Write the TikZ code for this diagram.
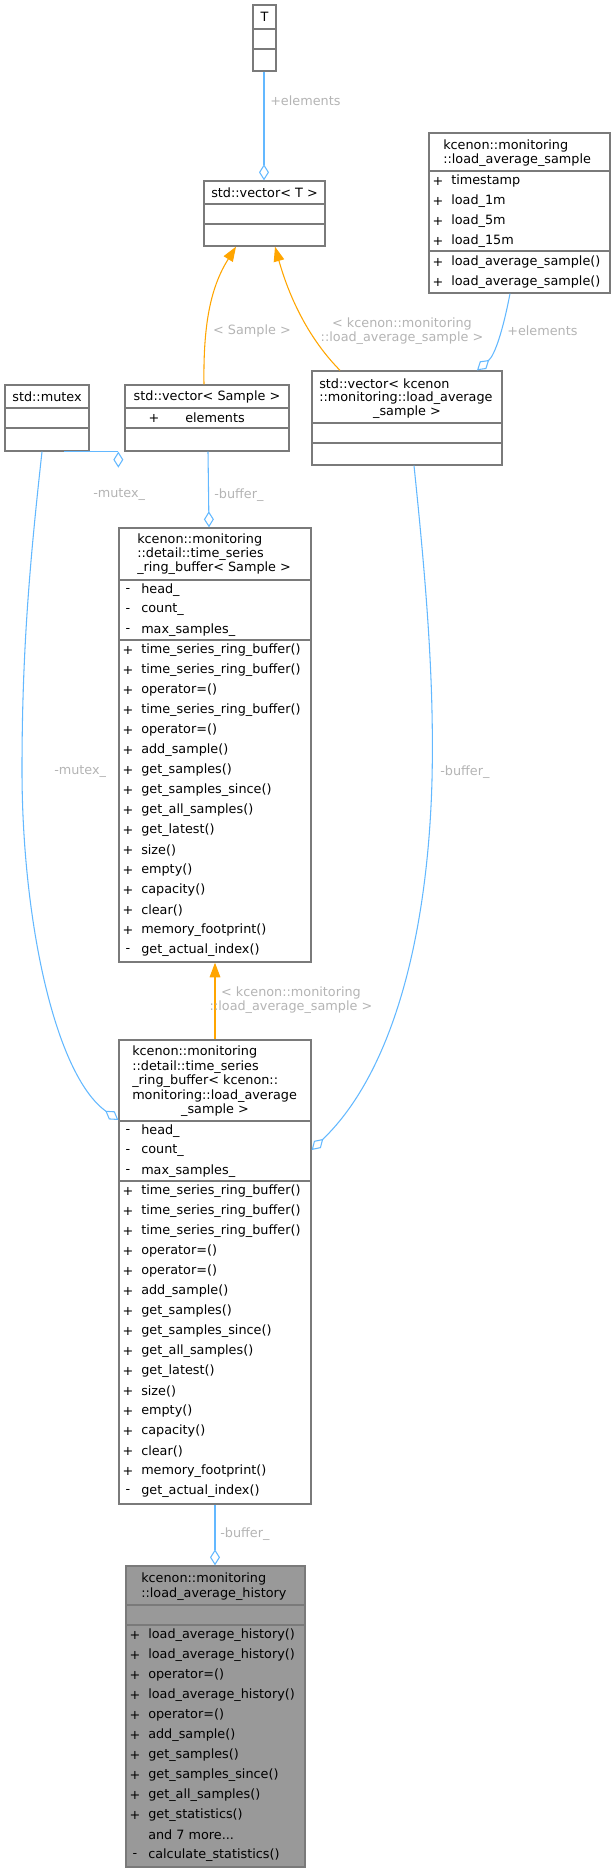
\documentclass[tikz,border=0pt]{standalone}
\usepackage{fontspec}
\setmainfont{DejaVu Sans}
\usetikzlibrary{arrows.meta,fit}
\definecolor{eblue}{HTML}{63B8FF}
\definecolor{eorange}{HTML}{FFA500}
\definecolor{lbl}{HTML}{B4B4B4}
\definecolor{bord}{HTML}{7A7A7A}
\definecolor{hist}{HTML}{999999}
\newcommand\mem[4]{\node[txt] at ({#1+9},#2) {#3}; \node[txt,anchor=west] at ({#1+22},#2) {#4};}
\newcommand\tl[3]{\node[txt,anchor=west] at (#1,#2) {#3};}
\newcommand\hsep[3]{\draw[bord,line width=1pt] (#1,#3) -- (#2,#3);}
\begin{document}
\begin{tikzpicture}[x=0.75pt,y=-0.75pt,
  txt/.style={inner sep=0pt,font=\fontsize{9.6}{11}\selectfont,text=black},
  lab/.style={inner sep=0pt,font=\fontsize{9.6}{10.9}\selectfont,text=lbl,align=center},
  box/.style={draw=bord,line width=1pt,fill=white,inner sep=0pt},
  agg/.style={draw=eblue,line width=0.8pt,-{Diamond[open,length=12pt,width=7.5pt]}},
  inh/.style={draw=eorange,line width=0.8pt,-{Triangle[length=11pt,width=8pt]}}]
\useasboundingbox (0,0) rectangle (615,1872);
% boxes
\node[box,fit={(253,5)(276,71)}] (T) {};
\node[box,fit={(204,181)(325,246)}] (vT) {};
\node[box,fit={(429,133)(610,293)}] (las) {};
\node[box,fit={(5,385)(89,451)}] (mtx) {};
\node[box,fit={(125,385)(289,451)}] (vS) {};
\node[box,fit={(312,371)(502,465)}] (vL) {};
\node[box,fit={(119,528)(311,962)}] (r1) {};
\node[box,fit={(119,1040)(311,1504)}] (r2) {};
\node[box,fill=hist,fit={(126,1566)(305,1867)}] (hst) {};
% T
\node[txt] (Tt) at (264.5,17) {T};
\hsep{253}{276}{29}\hsep{253}{276}{49}
% vector<T>
\node[txt] (vTt) at (264.5,193) {std::vector< T >};
\hsep{204}{325}{204}\hsep{204}{325}{224}
% load_average_sample
\tl{443}{146}{kcenon::monitoring}
\tl{443}{160}{::load\_average\_sample}
\hsep{429}{610}{171}
\mem{429}{181}{+}{timestamp}
\mem{429}{201}{+}{load\_1m}
\mem{429}{221}{+}{load\_5m}
\mem{429}{241}{+}{load\_15m}
\hsep{429}{610}{251}
\mem{429}{262}{+}{load\_average\_sample()}
\mem{429}{282}{+}{load\_average\_sample()}
% mutex
\node[txt] (mt) at (47,397) {std::mutex};
\hsep{5}{89}{408}\hsep{5}{89}{428}
% vector<Sample>
\node[txt] (vSt) at (207,397) {std::vector< Sample >};
\hsep{125}{289}{408}
\node[txt] at (154,418) {+}; \node[txt] at (215,418) {elements};
\hsep{125}{289}{428}
% vector<load_average_sample>
\tl{319}{384}{std::vector< kcenon}
\tl{319}{398}{::monitoring::load\_average}
\node[txt] at (407,412) {\_sample >};
\hsep{312}{502}{423}\hsep{312}{502}{443}
% ring buffer <Sample>
\tl{137}{540}{kcenon::monitoring}
\tl{137}{554}{::detail::time\_series}
\tl{137}{568}{\_ring\_buffer< Sample >}
\hsep{119}{311}{580}
\mem{119}{590}{-}{head\_}
\mem{119}{610}{-}{count\_}
\mem{119}{630}{-}{max\_samples\_}
\hsep{119}{311}{640}
\foreach \t [count=\i from 0] in {time\_series\_ring\_buffer(),time\_series\_ring\_buffer(),operator=(),time\_series\_ring\_buffer(),operator=(),add\_sample(),get\_samples(),get\_samples\_since(),get\_all\_samples(),get\_latest(),size(),empty(),capacity(),clear(),memory\_footprint()}
  {\mem{119}{650+20*\i}{+}{\t}}
\mem{119}{950}{-}{get\_actual\_index()}
% ring buffer <load_average_sample>
\tl{132}{1052}{kcenon::monitoring}
\tl{132}{1067}{::detail::time\_series}
\tl{132}{1081}{\_ring\_buffer< kcenon::}
\tl{132}{1096}{monitoring::load\_average}
\node[txt] at (215,1110) {\_sample >};
\hsep{119}{311}{1121}
\mem{119}{1131}{-}{head\_}
\mem{119}{1151}{-}{count\_}
\mem{119}{1171}{-}{max\_samples\_}
\hsep{119}{311}{1181}
\foreach \t [count=\i from 0] in {time\_series\_ring\_buffer(),time\_series\_ring\_buffer(),time\_series\_ring\_buffer(),operator=(),operator=(),add\_sample(),get\_samples(),get\_samples\_since(),get\_all\_samples(),get\_latest(),size(),empty(),capacity(),clear(),memory\_footprint()}
  {\mem{119}{1191+20*\i}{+}{\t}}
\mem{119}{1491}{-}{get\_actual\_index()}
% history
\tl{141}{1579}{kcenon::monitoring}
\tl{141}{1594}{::load\_average\_history}
\hsep{126}{305}{1605}\hsep{126}{305}{1625}
\foreach \t [count=\i from 0] in {load\_average\_history(),load\_average\_history(),operator=(),load\_average\_history(),operator=(),add\_sample(),get\_samples(),get\_samples\_since(),get\_all\_samples(),get\_statistics()}
  {\mem{126}{1635+20*\i}{+}{\t}}
\node[txt,anchor=west] at (148,1835) {and 7 more...};
\mem{126}{1855}{-}{calculate\_statistics()}
% connectors
\draw[agg] (264,0 |- T.south) -- (264,0 |- vT.north);
\node[lab,anchor=west] (l1) at (270,101) {+elements};
\draw[inh] (204,0 |- vS.north) .. controls (203,320) and (212,285) .. (236,0 |- vT.south);
\node[lab] (l2) at (252,331) {< Sample >};
\draw[inh] (340,0 |- vL.north) .. controls (310,340) and (290,300) .. (275,0 |- vT.south);
\node[lab] (l3) at (402,331) {< kcenon::monitoring\\::load\_average\_sample >};
\draw[agg] (510,0 |- las.south) .. controls (503,330) and (495,355) .. (477,0 |- vL.north);
\node[lab,anchor=west] (l4) at (507,331) {+elements};
\draw[agg] (64,0 |- mtx.south) -- (mtx.south -| r1.west) ++(0,0) coordinate (dummy);
\node[lab,anchor=west] (l5) at (93,495) {-mutex\_};
\draw[agg] (208,0 |- vS.south) -- (209,0 |- r1.north);
\node[lab,anchor=west] (l6) at (214,495) {-buffer\_};
\draw[agg] (42,0 |- mtx.south) .. controls (30,560) and (22,650) .. (22,770) .. controls (22,920) and (55,1075) .. (r2.west |- 0,1120);
\node[lab,anchor=west] (l7) at (54,772) {-mutex\_};
\draw[agg] (414,0 |- vL.south) .. controls (428,600) and (434,690) .. (432,780) .. controls (428,930) and (395,1070) .. (r2.east |- 0,1150);
\node[lab,anchor=west] (l8) at (440,772) {-buffer\_};
\draw[inh] (215,0 |- r2.north) -- (215,0 |- r1.south);
\node[lab] (l9) at (291,1000) {< kcenon::monitoring\\::load\_average\_sample >};
\draw[agg] (215,0 |- r2.south) -- (215,0 |- hst.north);
\node[lab,anchor=west] (l10) at (220,1534) {-buffer\_};
\end{tikzpicture}
\end{document}
